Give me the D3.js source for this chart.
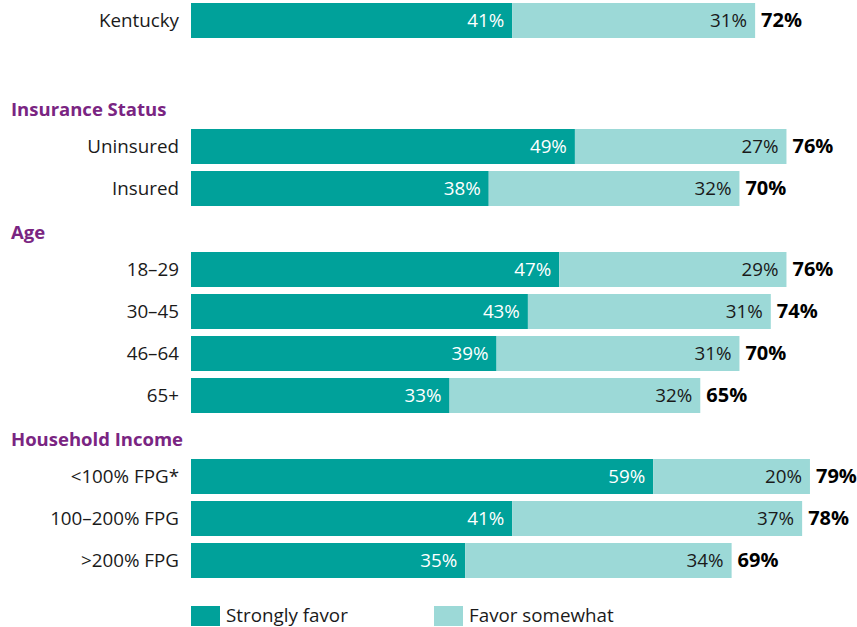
<!DOCTYPE html>
<html><head><meta charset="utf-8">
<script src="https://cdn.jsdelivr.net/npm/d3@7"></script>
<style>body{margin:0;background:#fff;}svg{display:block;}</style>
</head><body>
<script>
const categories = ["Kentucky","Uninsured","Insured","18–29","30–45","46–64","65+","<100% FPG*","100–200% FPG",">200% FPG"];
const groups = ["", "Insurance Status","Insurance Status","Age","Age","Age","Age","Household Income","Household Income","Household Income"];
const stronglyFavor = [41,49,38,47,43,39,33,59,41,35];
const favorSomewhat = [31,27,32,29,31,31,32,20,37,34];
const totals = [72,76,70,76,74,70,65,79,78,69];
const seriesNames = ["Strongly favor","Favor somewhat"];
const colors = ["#00a19a","#9cd9d7"];

const W = 857, H = 627;
const svg = d3.select("body").append("svg").attr("width", W).attr("height", H);
const font = "'Open Sans', sans-serif";
const fs = 18.8;

const x = d3.scaleLinear().domain([0, 100]).range([191, 974.5]);
const barH = 35, step = 42, headerGap = 39;

const tops = [];
let y = 3;
categories.forEach((c, i) => {
  if (i > 0) {
    y += step;
    if (groups[i] !== groups[i-1]) y += (i === 1 ? 2*step : headerGap);
  }
  tops.push(y);
});

const data = categories.map((c, i) => ({c, s: stronglyFavor[i], f: favorSomewhat[i], t: totals[i], y: tops[i], g: groups[i]}));

const headerNames = [...new Set(groups.filter(g => g))];
headerNames.forEach(g => {
  const first = data.find(d => d.g === g);
  svg.append("text").attr("x", 11).attr("y", first.y - 13)
    .attr("font-family", font).attr("font-weight", "bold").attr("font-size", 18.5)
    .attr("fill", "#7a2582").text(g);
});

const base = barH/2 + 6.5;
const rows = svg.selectAll("g.row").data(data).join("g").attr("class","row");
rows.append("text").attr("x", 179).attr("y", d => d.y + base)
  .attr("text-anchor","end").attr("font-family", font).attr("font-size", fs)
  .attr("fill","#1a1a1a").text(d => d.c);
rows.append("rect").attr("x", x(0)).attr("y", d => d.y).attr("height", barH)
  .attr("width", d => x(d.s) - x(0)).attr("fill", colors[0]);
rows.append("rect").attr("x", d => x(d.s)).attr("y", d => d.y).attr("height", barH)
  .attr("width", d => x(d.s + d.f) - x(d.s)).attr("fill", colors[1]);
rows.append("text").attr("x", d => x(d.s) - 8).attr("y", d => d.y + base)
  .attr("text-anchor","end").attr("font-family", font).attr("font-size", fs)
  .attr("fill","#fff").text(d => d.s + "%");
rows.append("text").attr("x", d => x(d.s + d.f) - 8).attr("y", d => d.y + base)
  .attr("text-anchor","end").attr("font-family", font).attr("font-size", fs)
  .attr("fill","#1a1a1a").text(d => d.f + "%");
rows.append("text").attr("x", d => x(d.s + d.f) + 6).attr("y", d => d.y + base)
  .attr("font-family", font).attr("font-size", 20).attr("font-weight","bold")
  .attr("fill","#000").text(d => d.t + "%");

const legX = [191, 434];
seriesNames.forEach((n, i) => {
  svg.append("rect").attr("x", legX[i]).attr("y", 606).attr("width", 29).attr("height", 20).attr("fill", colors[i]);
  svg.append("text").attr("x", legX[i] + 35).attr("y", 622).attr("font-family", font).attr("font-size", fs)
    .attr("fill","#1a1a1a").text(n);
});
</script>
</body></html>
